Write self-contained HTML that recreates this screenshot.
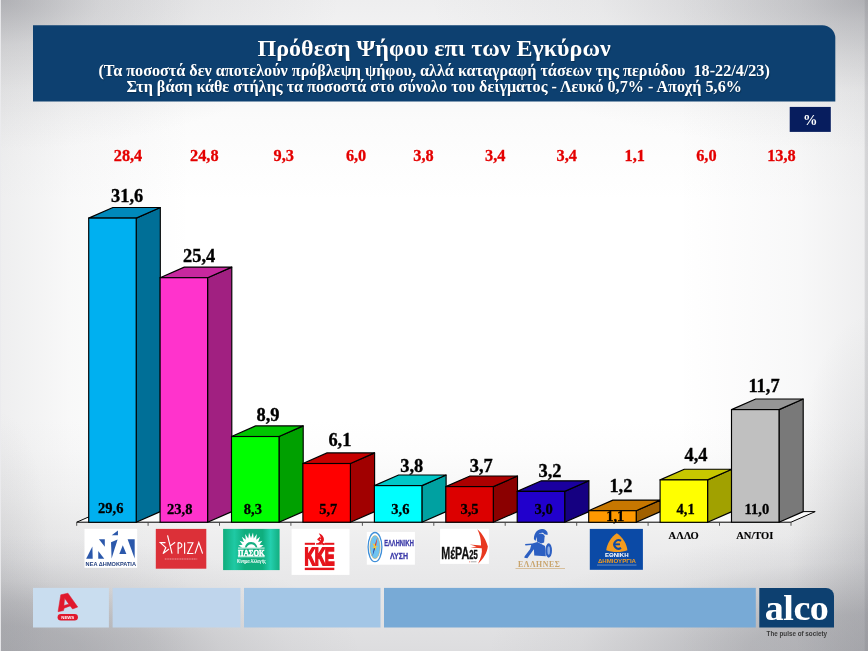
<!DOCTYPE html>
<html><head><meta charset="utf-8"><title>chart</title>
<style>
html,body{margin:0;padding:0;}
body{width:868px;height:651px;overflow:hidden;position:relative;font-family:"Liberation Serif",serif;
background:
 linear-gradient(90deg, rgba(235,235,238,0.9) 0px, rgba(235,235,238,0.9) 1px, rgba(235,235,238,0) 1.5px),
 linear-gradient(270deg, rgba(120,121,128,0.22) 0px, rgba(120,121,128,0.2) 2.5px, rgba(120,121,128,0) 4px),
 radial-gradient(ellipse 340px 150px at 0px 0px, rgba(120,121,128,0.46) 0%, rgba(120,121,128,0.2) 30%, rgba(120,121,128,0.08) 60%, rgba(120,121,128,0) 100%),
 radial-gradient(ellipse 440px 150px at 868px 0px, rgba(120,121,128,0.46) 0%, rgba(120,121,128,0.33) 15%, rgba(120,121,128,0.18) 38%, rgba(120,121,128,0.06) 61%, rgba(120,121,128,0) 100%),
 radial-gradient(ellipse 360px 116px at 0px 651px, rgba(120,121,128,0.46) 0%, rgba(120,121,128,0.44) 22%, rgba(120,121,128,0.33) 42%, rgba(120,121,128,0.16) 61%, rgba(120,121,128,0.06) 80%, rgba(120,121,128,0) 100%),
 radial-gradient(ellipse 380px 118px at 868px 651px, rgba(120,121,128,0.44) 0%, rgba(120,121,128,0.39) 31%, rgba(120,121,128,0.2) 57%, rgba(120,121,128,0.07) 76%, rgba(120,121,128,0) 100%),
 radial-gradient(ellipse 80px 230px at 868px 545px, rgba(120,121,128,0.2) 0%, rgba(120,121,128,0.09) 50%, rgba(120,121,128,0) 100%),
 radial-gradient(ellipse 50px 160px at 0px 570px, rgba(120,121,128,0.1) 0%, rgba(120,121,128,0) 100%),
 linear-gradient(90deg, rgba(120,121,128,0.125) 0px, rgba(120,121,128,0.05) 70px, rgba(120,121,128,0) 190px),
 linear-gradient(270deg, rgba(120,121,128,0.125) 0px, rgba(120,121,128,0.05) 70px, rgba(120,121,128,0) 190px),
 linear-gradient(180deg, #eeeeef 0px, #f5f5f5 60px, #fbfbfb 120px, #ffffff 200px, #ffffff 420px, #fdfdfd 450px, #f6f6f6 500px, #f0f0f0 527px, #ececed 550px, #e8e8e9 580px, #dddddf 651px);
}
#banner{position:absolute;left:33px;top:25px;width:802.3px;height:76px;color:#fff;text-align:center;font-weight:bold;text-shadow:0.7px 0.8px 1px rgba(0,0,0,0.3);}
#banner div{position:absolute;left:0;right:0;white-space:pre;}
#banner .t{top:10px;font-size:24px;line-height:26px;}
#banner .s1{top:36.5px;font-size:16.17px;line-height:18px;}
#banner .s2{top:53.3px;font-size:16.17px;line-height:18px;}
#pct{position:absolute;left:789.7px;top:106.9px;width:41.1px;height:25px;color:#fff;font-weight:bold;font-size:14.5px;line-height:26.5px;text-align:center;}
svg text{font-family:"Liberation Serif",serif;font-weight:bold;text-anchor:middle;}
.in{font-size:14.5px;fill:#000;stroke:#000;stroke-width:0.3px;}
.tp{font-size:18.4px;fill:#000;stroke:#000;stroke-width:0.35px;}
.rd{font-size:16.3px;fill:#e40000;stroke:#e40000;stroke-width:0.3px;}
.lb{font-size:10.5px;fill:#000;stroke:#000;stroke-width:0.15px;}
.blk{position:absolute;top:588px;height:39.5px;}
#w{position:absolute;left:0;top:0;width:868px;height:651px;will-change:transform;}
</style></head><body><div id="w">
<svg width="868" height="651" viewBox="0 0 868 651" style="position:absolute;left:0;top:0"><path d="M33,25.2 H822.3 A13,13 0 0 1 835.3,38.2 V101.6 H33 Z" fill="#0d4070"/><rect x="789.1" y="106.3" width="42.3" height="26.2" fill="#f4f4f6"/><rect x="789.7" y="106.9" width="41.1" height="25" fill="#071d5e"/></svg>
<div id="banner"><div class="t">Πρόθεση Ψήφου επι των Εγκύρων</div><div class="s1">(Τα ποσοστά δεν αποτελούν πρόβλεψη ψήφου, αλλά καταγραφή τάσεων της περιόδου  18-22/4/23)</div><div class="s2">Στη βάση κάθε στήλης τα ποσοστά στο σύνολο του δείγματος - Λευκό 0,7% - Αποχή 5,6%</div></div>
<div id="pct">%</div>
<svg width="868" height="651" viewBox="0 0 868 651" style="position:absolute;left:0;top:0">
<polygon points="76.7,522.2 100.9,511.6 815.2,511.6 791.0,522.2" fill="#fbfbfb" stroke="#000" stroke-width="1"/>
<line x1="76.7" y1="522.2" x2="76.7" y2="525.8000000000001" stroke="#444" stroke-width="0.9"/>
<line x1="148.1" y1="522.2" x2="148.1" y2="525.8000000000001" stroke="#444" stroke-width="0.9"/>
<line x1="219.5" y1="522.2" x2="219.5" y2="525.8000000000001" stroke="#444" stroke-width="0.9"/>
<line x1="290.9" y1="522.2" x2="290.9" y2="525.8000000000001" stroke="#444" stroke-width="0.9"/>
<line x1="362.4" y1="522.2" x2="362.4" y2="525.8000000000001" stroke="#444" stroke-width="0.9"/>
<line x1="433.8" y1="522.2" x2="433.8" y2="525.8000000000001" stroke="#444" stroke-width="0.9"/>
<line x1="505.2" y1="522.2" x2="505.2" y2="525.8000000000001" stroke="#444" stroke-width="0.9"/>
<line x1="576.7" y1="522.2" x2="576.7" y2="525.8000000000001" stroke="#444" stroke-width="0.9"/>
<line x1="648.1" y1="522.2" x2="648.1" y2="525.8000000000001" stroke="#444" stroke-width="0.9"/>
<line x1="719.5" y1="522.2" x2="719.5" y2="525.8000000000001" stroke="#444" stroke-width="0.9"/>
<line x1="791.0" y1="522.2" x2="791.0" y2="525.8000000000001" stroke="#444" stroke-width="0.9"/>
<polygon points="136.2,218.1 160.3,207.5 160.3,511.6 136.2,522.2" fill="#006f97" stroke="#000" stroke-width="1.15" stroke-linejoin="round"/>
<polygon points="88.7,218.1 112.9,207.5 160.3,207.5 136.2,218.1" fill="#0089bb" stroke="#000" stroke-width="1.15" stroke-linejoin="round"/>
<rect x="88.7" y="218.1" width="47.5" height="304.2" fill="#00b0f0" stroke="#000" stroke-width="1.15"/>
<text x="110.8" y="513.0" class="in">29,6</text>
<text x="127.1" y="201.6" class="tp">31,6</text>
<polygon points="207.6,277.7 231.8,267.1 231.8,511.6 207.6,522.2" fill="#a12081" stroke="#000" stroke-width="1.15" stroke-linejoin="round"/>
<polygon points="160.1,277.7 184.3,267.1 231.8,267.1 207.6,277.7" fill="#c7289f" stroke="#000" stroke-width="1.15" stroke-linejoin="round"/>
<rect x="160.1" y="277.7" width="47.5" height="244.5" fill="#ff33cc" stroke="#000" stroke-width="1.15"/>
<text x="179.8" y="514.1" class="in">23,8</text>
<text x="199.1" y="262.3" class="tp">25,4</text>
<polygon points="279.0,436.5 303.2,425.9 303.2,511.6 279.0,522.2" fill="#00a000" stroke="#000" stroke-width="1.15" stroke-linejoin="round"/>
<polygon points="231.5,436.5 255.7,425.9 303.2,425.9 279.0,436.5" fill="#00c600" stroke="#000" stroke-width="1.15" stroke-linejoin="round"/>
<rect x="231.5" y="436.5" width="47.5" height="85.7" fill="#00fe00" stroke="#000" stroke-width="1.15"/>
<text x="252.9" y="513.9" class="in">8,3</text>
<text x="268.0" y="421.0" class="tp">8,9</text>
<polygon points="350.4,463.5 374.6,452.9 374.6,511.6 350.4,522.2" fill="#a10000" stroke="#000" stroke-width="1.15" stroke-linejoin="round"/>
<polygon points="302.9,463.5 327.1,452.9 374.6,452.9 350.4,463.5" fill="#c70000" stroke="#000" stroke-width="1.15" stroke-linejoin="round"/>
<rect x="302.9" y="463.5" width="47.5" height="58.7" fill="#ff0000" stroke="#000" stroke-width="1.15"/>
<text x="328.3" y="514.1" class="in">5,7</text>
<text x="339.9" y="446.0" class="tp">6,1</text>
<polygon points="421.9,485.6 446.1,475.0 446.1,511.6 421.9,522.2" fill="#00a1a1" stroke="#000" stroke-width="1.15" stroke-linejoin="round"/>
<polygon points="374.4,485.6 398.6,475.0 446.1,475.0 421.9,485.6" fill="#00c7c7" stroke="#000" stroke-width="1.15" stroke-linejoin="round"/>
<rect x="374.4" y="485.6" width="47.5" height="36.6" fill="#00ffff" stroke="#000" stroke-width="1.15"/>
<text x="400.4" y="513.7" class="in">3,6</text>
<text x="411.7" y="472.3" class="tp">3,8</text>
<polygon points="493.3,486.6 517.5,476.0 517.5,511.6 493.3,522.2" fill="#8b0000" stroke="#000" stroke-width="1.15" stroke-linejoin="round"/>
<polygon points="445.8,486.6 470.0,476.0 517.5,476.0 493.3,486.6" fill="#ac0000" stroke="#000" stroke-width="1.15" stroke-linejoin="round"/>
<rect x="445.8" y="486.6" width="47.5" height="35.6" fill="#dc0000" stroke="#000" stroke-width="1.15"/>
<text x="469.5" y="513.7" class="in">3,5</text>
<text x="481.3" y="472.3" class="tp">3,7</text>
<polygon points="564.7,491.4 588.9,480.8 588.9,511.6 564.7,522.2" fill="#150081" stroke="#000" stroke-width="1.15" stroke-linejoin="round"/>
<polygon points="517.2,491.4 541.4,480.8 588.9,480.8 564.7,491.4" fill="#1a009f" stroke="#000" stroke-width="1.15" stroke-linejoin="round"/>
<rect x="517.2" y="491.4" width="47.5" height="30.8" fill="#2100cc" stroke="#000" stroke-width="1.15"/>
<text x="543.6" y="514.0" class="in">3,0</text>
<text x="550.0" y="477.3" class="tp">3,2</text>
<polygon points="636.2,510.7 660.4,500.1 660.4,511.6 636.2,522.2" fill="#a16000" stroke="#000" stroke-width="1.15" stroke-linejoin="round"/>
<polygon points="588.7,510.7 612.9,500.1 660.4,500.1 636.2,510.7" fill="#c77700" stroke="#000" stroke-width="1.15" stroke-linejoin="round"/>
<rect x="588.7" y="510.7" width="47.5" height="11.6" fill="#ff9900" stroke="#000" stroke-width="1.15"/>
<text x="615.2" y="521.0" class="in">1,1</text>
<text x="620.9" y="492.4" class="tp">1,2</text>
<polygon points="707.6,479.9 731.8,469.2 731.8,511.6 707.6,522.2" fill="#a1a100" stroke="#000" stroke-width="1.15" stroke-linejoin="round"/>
<polygon points="660.1,479.9 684.3,469.2 731.8,469.2 707.6,479.9" fill="#c7c700" stroke="#000" stroke-width="1.15" stroke-linejoin="round"/>
<rect x="660.1" y="479.9" width="47.5" height="42.4" fill="#ffff00" stroke="#000" stroke-width="1.15"/>
<text x="685.6" y="513.5" class="in">4,1</text>
<text x="696.0" y="460.8" class="tp">4,4</text>
<polygon points="779.0,409.6 803.2,399.0 803.2,511.6 779.0,522.2" fill="#797979" stroke="#000" stroke-width="1.15" stroke-linejoin="round"/>
<polygon points="731.5,409.6 755.7,399.0 803.2,399.0 779.0,409.6" fill="#969696" stroke="#000" stroke-width="1.15" stroke-linejoin="round"/>
<rect x="731.5" y="409.6" width="47.5" height="112.6" fill="#c0c0c0" stroke="#000" stroke-width="1.15"/>
<text x="756.9" y="513.5" class="in">11,0</text>
<text x="764.0" y="392.4" class="tp">11,7</text>
<text x="128.0" y="160.6" class="rd">28,4</text>
<text x="204.3" y="160.6" class="rd">24,8</text>
<text x="283.7" y="160.6" class="rd">9,3</text>
<text x="356.1" y="160.6" class="rd">6,0</text>
<text x="423.5" y="160.6" class="rd">3,8</text>
<text x="495.3" y="160.6" class="rd">3,4</text>
<text x="566.8" y="160.6" class="rd">3,4</text>
<text x="634.8" y="160.6" class="rd">1,1</text>
<text x="706.4" y="160.6" class="rd">6,0</text>
<text x="781.4" y="160.6" class="rd">13,8</text>
<text x="683.7" y="539" class="lb">ΑΛΛΟ</text>
<text x="754.8" y="539" class="lb">ΑΝ/ΤΟΙ</text>
<rect x="33" y="587.9" width="75.9" height="39.6" fill="#c9ddef"/>
<rect x="112.6" y="587.9" width="127.9" height="39.6" fill="#bfd5ec"/>
<rect x="244" y="587.9" width="136.5" height="39.6" fill="#a3c6e6"/>
<rect x="384" y="587.9" width="371.8" height="39.6" fill="#78aad6"/>
<path d="M759.3,587.9 H826 A8,8 0 0 1 834,595.9 V627.6 H759.3 Z" fill="#0d4070"/>
<rect x="84.5" y="528.8" width="52.7" height="39" fill="#fff"/>
<polygon points="86.15,558.83 92.71,558.83 92.37,546.39" fill="#2b58ab"/>
<polygon points="98.93,539.13 104.81,539.13 104.81,546.73" fill="#2b58ab"/>
<polygon points="98.24,550.88 98.24,558.83 104.25,558.83" fill="#2b58ab"/>
<polygon points="111.72,535.33 117.94,530.49 117.94,535.33" fill="#2b58ab"/>
<polygon points="111.03,542.24 117.59,539.48 111.58,558.62" fill="#2b58ab"/>
<polygon points="122.77,545.35 126.37,553.99 119.32,553.99" fill="#2b58ab"/>
<polygon points="127.61,539.13 134.66,539.13 134.66,558.48" fill="#2b58ab"/>
<text x="110.8" y="566.2" style="font-family:'Liberation Sans',sans-serif;font-size:4.9px;fill:#24407f;text-anchor:middle" textLength="50.4" lengthAdjust="spacingAndGlyphs">ΝΕΑ ΔΗΜΟΚΡΑΤΙΑ</text>
<rect x="155.8" y="528.9" width="50.5" height="39.8" fill="#dc3038"/>
<path d="M 165.48,542.59 L 160.29,542.59 L 165.82,547.56 L 163.06,553.64 L 168.93,548.94 M 167.55,535.33 L 172.04,553.64 M 169.62,546.39 L 175.15,542.24 M 178.12,542.59 L 178.12,553.64 M 178.12,542.72 C 183.10,542.24 183.10,548.46 178.12,548.25 M 184.62,542.59 L 184.62,553.64 M 187.25,542.72 L 192.91,542.72 L 187.59,553.51 L 193.47,553.51 M 194.99,553.64 L 198.79,542.59 L 202.59,553.64" fill="none" stroke="#fff" stroke-width="1.15" stroke-linejoin="miter"/>
<line x1="164.8" y1="559.0" x2="197.3" y2="559.0" stroke="#fff" stroke-opacity="0.5" stroke-width="1.2" stroke-dasharray="1.2 0.5"/>
<defs><linearGradient id="pg" x1="0" x2="1" y1="0" y2="0"><stop offset="0" stop-color="#10ad7c"/><stop offset="0.2" stop-color="#1fc9a4"/><stop offset="0.38" stop-color="#0fae7e"/><stop offset="0.7" stop-color="#0fae7e"/><stop offset="0.84" stop-color="#24cfae"/><stop offset="1" stop-color="#12ae80"/></linearGradient></defs>
<rect x="223.1" y="528.9" width="56.5" height="41.2" fill="url(#pg)"/>
<polygon points="242.10,547.80 238.36,545.36 242.54,544.77 239.60,540.72 243.80,542.04 241.95,536.77 245.77,539.87 245.19,533.90 248.25,538.48 249.00,532.39 251.00,538.00 253.00,532.39 253.75,538.48 256.81,533.90 256.23,539.87 260.05,536.77 258.20,542.04 262.40,540.72 259.46,544.77 263.64,545.36 259.90,547.80" fill="#fff"/>
<path d="M244.8,547.8 A6.4,6.9 0 0 1 257.4,547.8 Z" fill="#14b083"/>
<path d="M246.6,547.8 A4.9,5.3 0 0 1 255.9,547.8 Z" fill="#fff"/>
<rect x="238" y="547.6" width="26.6" height="0.9" fill="#fff"/>
<text x="251.3" y="555.6" style="font-family:'Liberation Serif',serif;font-size:8.3px;font-weight:bold;fill:#fff;text-anchor:middle;stroke:#fff;stroke-width:0.5" textLength="26.4" lengthAdjust="spacingAndGlyphs">ΠΑΣΟΚ</text>
<rect x="238" y="556.4" width="26.6" height="0.8" fill="#fff"/>
<text x="251.4" y="562.8" style="font-family:'Liberation Sans',sans-serif;font-size:4.7px;font-weight:bold;fill:#fff;text-anchor:middle" textLength="29" lengthAdjust="spacingAndGlyphs">Κίνημα Αλλαγής</text>
<rect x="291.6" y="528.8" width="57.9" height="46.1" fill="#fff"/>
<rect x="304.8" y="542.8" width="10.2" height="2" fill="#e6141c"/><rect x="324.6" y="542.8" width="9.7" height="2" fill="#e6141c"/>
<rect x="304.8" y="567.7" width="29.5" height="2.4" fill="#e6141c"/>
<g transform="translate(304.6,565.2) scale(0.6,1)"><text x="0" y="0" style="font-family:'Liberation Sans',sans-serif;font-size:24.6px;font-weight:bold;fill:#e6141c;stroke:#e6141c;stroke-width:1.9;letter-spacing:-0.9px;text-anchor:start">ΚΚΕ</text></g>
<path d="M 318.75,533.19 C 325.54,535.58 325.54,542.77 319.95,544.21 C 318.35,544.53 316.75,544.21 315.96,543.57 C 319.95,543.17 323.14,539.58 318.75,533.19 Z" fill="#e6141c"/>
<path d="M 317.15,539.18 L 319.95,536.78 L 321.15,538.38 L 319.55,539.58 L 324.74,544.53 L 323.54,545.17 L 318.75,540.54 L 318.19,540.78 Z" fill="#e6141c"/>
<rect x="316" y="543.4" width="9" height="1.2" fill="#e6141c"/>
<rect x="366.8" y="531.9" width="48.1" height="32.8" fill="#fff"/>
<ellipse cx="375" cy="547.1" rx="6.9" ry="14.6" fill="#fff" stroke="#3f8fd9" stroke-width="1.3"/>
<ellipse cx="375" cy="547.1" rx="5.1" ry="11.6" fill="#6ec3f2" stroke="#c9a44a" stroke-width="0.5"/>
<path d="M 377.55,537.06 L 375.82,546.73 L 374.44,546.04 Z" fill="#e03a2a"/>
<path d="M 372.37,556.41 L 374.09,546.73 L 375.48,547.56 Z" fill="#2a3f9a"/>
<path d="M 374.99,544.31 L 375.68,546.18 L 378.24,546.73 L 375.82,547.56 L 376.17,550.88 L 374.85,548.25 L 371.68,547.98 L 374.16,546.73 L 372.37,543.28 Z" fill="#f5c83a"/>
<text x="399" y="545.7" style="font-family:'Liberation Sans',sans-serif;font-size:9.6px;fill:#3b3aa8;text-anchor:middle;stroke:#3b3aa8;stroke-width:0.3" textLength="29.6" lengthAdjust="spacingAndGlyphs">ΕΛΛΗΝΙΚΗ</text>
<text x="399" y="558.5" style="font-family:'Liberation Sans',sans-serif;font-size:9.6px;fill:#3b3aa8;text-anchor:middle;stroke:#3b3aa8;stroke-width:0.3" textLength="18" lengthAdjust="spacingAndGlyphs">ΛΥΣΗ</text>
<rect x="440.1" y="528.8" width="48.8" height="35.1" fill="#fff"/>
<text x="441.2" y="559.2" style="font-family:'Liberation Sans',sans-serif;font-size:17.3px;fill:#111;stroke:#111;stroke-width:0.3;text-anchor:start" textLength="28" lengthAdjust="spacingAndGlyphs">ΜέΡΑ</text>
<text x="469.2" y="559.2" style="font-family:'Liberation Sans',sans-serif;font-size:12px;fill:#111;stroke:#111;stroke-width:0.4;text-anchor:start" textLength="8.5" lengthAdjust="spacingAndGlyphs">25</text>
<path d="M 477.33,529.32 C 482.44,533.26 486.31,540.86 487.83,546.59 C 487.00,553.09 483.68,558.62 478.02,563.87 C 481.06,557.93 482.44,552.61 481.75,548.25 L 470.55,547.56 L 476.43,546.46 L 469.72,544.52 L 481.06,545.49 C 481.20,540.17 479.81,533.95 477.33,529.32 Z" fill="#e8381f"/>
<rect x="469.3" y="561.4" width="0.9" height="0.9" fill="#e8381f"/><rect x="471" y="561.5" width="5.5" height="0.7" fill="#888"/>
<path d="M 533.89,538.98 C 533.89,531.68 538.88,528.22 542.88,528.99 C 546.18,529.53 548.48,532.29 547.48,534.91 L 544.26,534.37 C 543.87,532.45 541.57,532.06 539.27,533.60 C 537.35,535.14 536.42,538.21 535.43,541.05 Z" fill="#2c5fc2"/>
<path d="M 536.73,535.52 C 538.50,532.60 543.87,532.83 544.64,536.29 L 544.10,542.43 L 541.19,543.59 L 536.96,541.51 Z" fill="#2c5fc2"/>
<path d="M 532.35,543.59 L 537.35,542.05 L 545.03,545.89 L 545.79,556.26 L 534.27,555.49 L 533.89,549.35 L 527.36,558.18 L 524.29,557.79 L 524.67,556.26 L 530.05,549.35 L 531.20,545.12 L 525.44,545.51 L 525.06,544.12 Z" fill="#2c5fc2"/>
<ellipse cx="548.7" cy="550.5" rx="3.3" ry="7.2" fill="#2c5fc2"/>
<ellipse cx="548.7" cy="550.5" rx="1.3" ry="4.2" fill="#8fb0e8"/>
<text x="538.9" y="566.7" style="font-family:'Liberation Serif',serif;font-size:7.8px;fill:#c9a46c;text-anchor:middle" textLength="42" lengthAdjust="spacing">ΕΛΛΗΝΕΣ</text>
<rect x="515.5" y="568.1" width="49.5" height="0.8" fill="#d2b488"/>
<rect x="589.8" y="528.9" width="53.1" height="40.9" fill="#0b4aa6"/>
<path d="M 616.80,533.22 C 622.85,537.05 626.90,544.42 627.41,550.32 C 621.37,552.68 612.53,552.68 606.19,550.32 C 607.00,543.69 611.06,537.05 616.80,533.22 Z" fill="#f39b1f"/>
<path d="M621.00,540.96 A4.25,4.25 0 1 0 621.00,547.89" fill="none" stroke="#0b4aa6" stroke-width="2.1"/>
<rect x="614.37" y="543.39" width="5.6" height="1.9" fill="#0b4aa6"/>
<g transform="translate(616.75,557.2) scale(1.36,1)"><text x="0" y="0" style="font-family:'Liberation Sans',sans-serif;font-size:4.5px;font-weight:bold;fill:#fff;text-anchor:middle">ΕΘΝΙΚΗ</text></g>
<g transform="translate(616.95,562.5) scale(1.2,1)"><text x="0" y="0" style="font-family:'Liberation Sans',sans-serif;font-size:5.1px;font-weight:bold;fill:#f39b1f;text-anchor:middle">ΔΗΜΙΟΥΡΓΙΑ</text></g>
<rect x="597" y="564.6" width="39.5" height="0.9" fill="#fff" fill-opacity="0.4"/>
<path d="M 60.78,594.84 L 67.95,593.20 L 77.73,607.04 L 72.59,608.98 L 70.17,605.88 L 64.08,608.20 L 63.49,610.62 L 58.07,611.69 Z M 64.66,598.33 L 68.92,604.14 L 63.88,605.49 Z" fill="#e0182d" fill-rule="evenodd" stroke="#e0182d" stroke-width="0.5" stroke-linejoin="round"/>
<rect x="57.6" y="614" width="20.3" height="6.6" rx="3.3" fill="#e0182d"/>
<text x="67.75" y="618.8" style="font-family:'Liberation Sans',sans-serif;font-size:4.1px;font-weight:bold;fill:#fff;text-anchor:middle" textLength="13" lengthAdjust="spacingAndGlyphs">NEWS</text>
<g transform="translate(796.6,619.8) scale(1.045,1)"><text x="0" y="0" style="font-family:'Liberation Serif',serif;font-size:36.5px;font-weight:bold;fill:#fff;text-anchor:middle;letter-spacing:-0.5px">alco</text></g>
<text x="796.8" y="636.2" style="font-family:'Liberation Sans',sans-serif;font-size:7.2px;fill:#3a3a3a;text-anchor:middle" textLength="60.5" lengthAdjust="spacingAndGlyphs">The pulse of society</text>
</svg>
</div></body></html>
